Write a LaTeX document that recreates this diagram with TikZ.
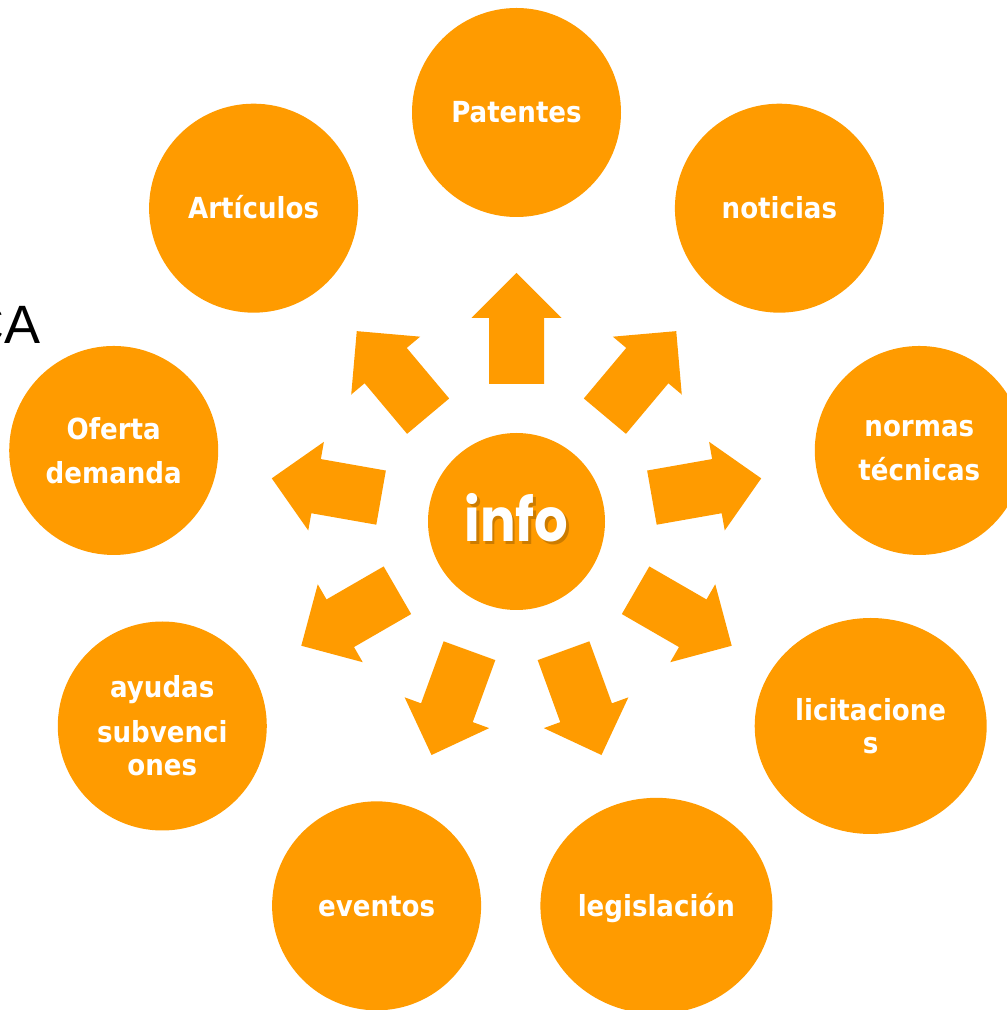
\documentclass[tikz,border=0pt]{standalone}
\usepackage{fontspec}
\setmainfont{DejaVu Sans}
\newfontfamily\lblfont{DejaVu Sans Condensed}
\newfontfamily\infofont{Poppins}
\newfontfamily\cafont{Liberation Sans}
\usetikzlibrary{shapes.geometric}
\definecolor{orng}{RGB}{255,155,0}
\newcommand{\infoword}{\scalebox{0.88}[1]{info}}
\begin{document}
\begin{tikzpicture}[x=1pt,y=1pt,
  bubble/.style={circle, fill=orng, minimum size=209pt, inner sep=0pt, text=white, align=center,
    font=\lblfont\bfseries\fontsize{29}{33}\selectfont},
  ebubble/.style={bubble, ellipse, minimum width=232pt, minimum height=216pt},
  oneline/.style={text height=21pt, text depth=0pt},
  blockarrow/.style={fill=orng},
  infotext/.style={font=\infofont\bfseries\fontsize{60}{60}\selectfont, anchor=base, inner sep=0pt}]
\useasboundingbox (0,0) rectangle (1007,1010);

\node[anchor=base east, inner sep=0pt, font=\cafont\fontsize{54}{54}\selectfont] (ca) at (40.5,666) {CA};

\begin{scope}[shift={(516.5,488.5)}]
  \foreach \a in {90,50,10,-30,-70,-110,-150,170,130}{
    \fill[blockarrow, rotate=\a] (137.5,-27.5) -- (203.5,-27.5) -- (203.5,-45) -- (248.5,0)
      -- (203.5,45) -- (203.5,27.5) -- (137.5,27.5) -- cycle;
  }
  \node[circle, fill=orng, minimum size=177pt, inner sep=0pt] (info) at (0,0) {};
  \node[bubble, oneline] (pat) at (90:409) {Patentes};
  \node[bubble, oneline] (not) at (50:409) {noticias};
  \node[bubble] (nor) at (10:409) {normas\\[11pt]técnicas};
  \node[ebubble] (lic) at (-30:409) {licitacione\\s};
  \node[ebubble, oneline] (leg) at (-70:409) {legislación};
  \node[bubble, oneline] (eve) at (-110:409) {eventos};
  \node[bubble] (ayu) at (-150:409) {ayudas\\[12pt]subvenci\\ones};
  \node[bubble] (ofe) at (170:409) {Oferta\\[11pt]demanda};
  \node[bubble, oneline] (art) at (130:409) {Artículos};
  \node[infotext, text=black, opacity=0.2] (infoshadow) at (2.5,-23) {\infoword};
  \node[infotext, text=white] (infolabel) at (0,-20.5) {\infoword};
\end{scope}
\end{tikzpicture}
\end{document}
